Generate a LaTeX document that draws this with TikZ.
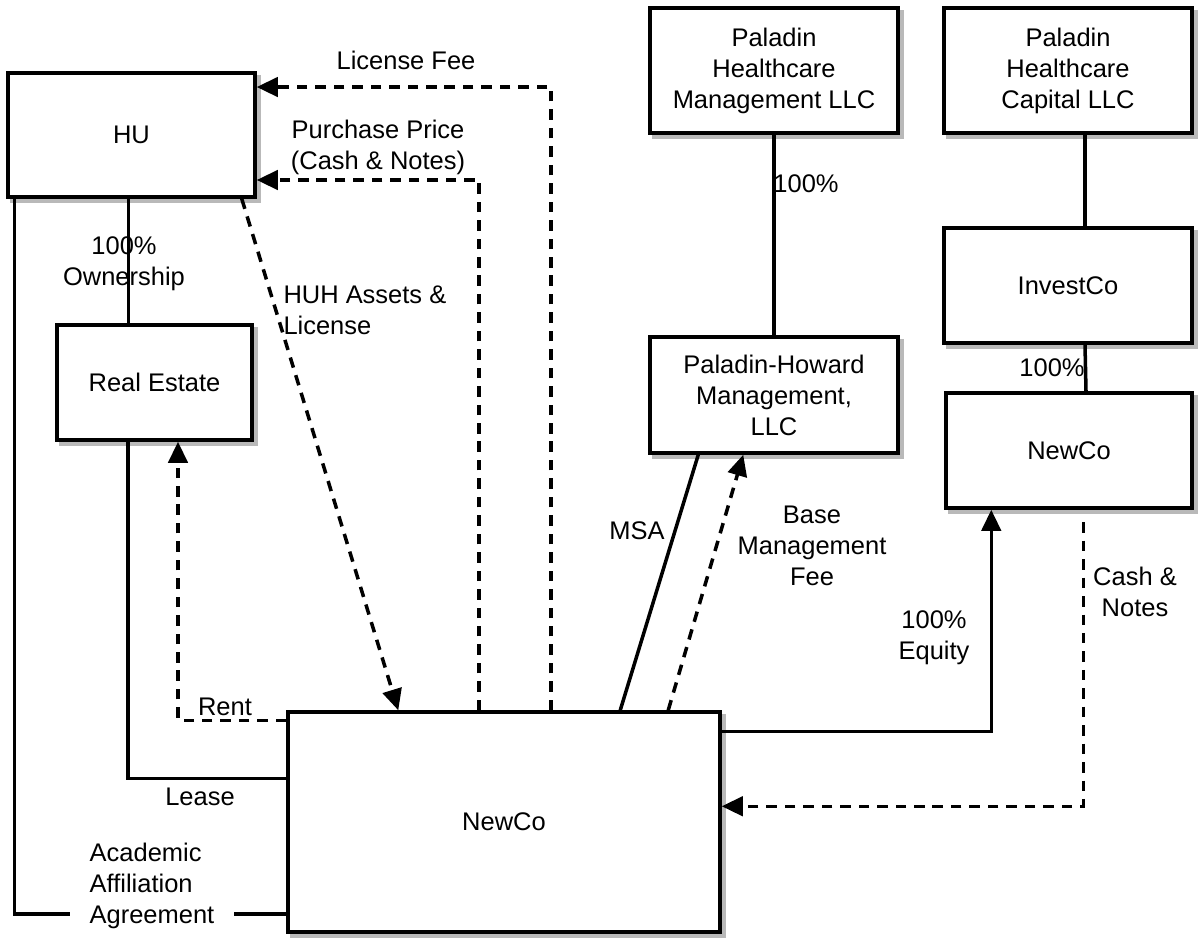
\documentclass[tikz,border=0pt]{standalone}
\usepackage{fontspec}
\setmainfont{Liberation Sans}
\usetikzlibrary{arrows.meta}

\begin{document}
\begin{tikzpicture}[x=0.02cm,y=-0.02cm,line width=2pt,
    >={Triangle[length=12pt,width=11pt]},
    font=\fontsize{14.5}{17.6}\selectfont,
    box/.style={draw,fill=white,align=center,inner sep=2pt,
      preaction={draw=gray!55,fill=gray!55,transform canvas={xshift=0.08cm,yshift=-0.08cm}}},
    lbl/.style={inner sep=1pt,align=center},
    flow/.style={->,dash pattern=on 6pt off 4.5pt}]

  \useasboundingbox (0,0) rectangle (1199,938);

  \node[box,minimum width=4.94cm,minimum height=2.48cm] (hu) at (131.5,135) {HU};
  \node[box,minimum width=3.9cm,minimum height=2.3cm] (realestate) at (154.5,382.5) {Real Estate};
  \node[box,minimum width=4.96cm,minimum height=2.5cm] (phm) at (774,70.5)
    {Paladin\\Healthcare\\Management LLC};
  \node[box,minimum width=4.96cm,minimum height=2.5cm] (phc) at (1068,70.5)
    {Paladin\\Healthcare\\Capital LLC};
  \node[box,minimum width=4.96cm,minimum height=2.3cm] (investco) at (1068,285.5) {InvestCo};
  \node[box,minimum width=4.96cm,minimum height=2.32cm] (phmgmt) at (774,395)
    {Paladin-Howard\\Management,\\LLC};
  \node[box,minimum width=4.92cm,minimum height=2.3cm] (newcoS) at (1069,450.5) {NewCo};
  \node[box,minimum width=8.64cm,minimum height=4.4cm] (newco) at (504,822) {NewCo};

  % HU side
  \draw ([xshift=-0.06cm]hu.south) -- ([xshift=-0.06cm]hu.south |- realestate.north);
  \node[lbl] (own) at (124,264) {100\%\\Ownership};
  \draw[flow] ([xshift=-0.3cm]hu.south east) -- ([xshift=2.24cm]newco.north west);
  \node[lbl,align=left,anchor=west] (huh) at (280,310) {HUH Assets \&\\License};
  \draw[flow] ([xshift=5.3cm]newco.north west) |- ([yshift=0.96cm]hu.east);
  \node[lbl] (fee) at (406,60) {License Fee};
  \draw[flow] ([xshift=3.86cm]newco.north west) |- ([yshift=-0.9cm]hu.east);
  \node[lbl] (price) at (378,147) {Purchase Price\\(Cash \& Notes)};
  \draw[flow] ([yshift=-0.2cm]newco.north west) -| ([xshift=0.47cm]realestate.south);
  \node[lbl] (rent) at (225,707) {Rent};
  \draw ([xshift=-0.53cm]realestate.south) |- ([yshift=-1.36cm]newco.north west);
  \node[lbl] (lease) at (200,797) {Lease};
  \draw ([xshift=0.16cm]hu.south west) |- ([yshift=0.4cm]newco.south west);
  \node[lbl,align=left,fill=white,inner xsep=0.4cm] (aaa) at (152,886)
    {Academic\\Affiliation\\Agreement};

  % Paladin side
  \draw (phm) -- (phmgmt);
  \node[lbl] (pct1) at (806,184) {100\%};
  \draw ([xshift=0.34cm]phc.south) -- ([xshift=0.34cm]investco.north);
  \draw ([xshift=0.34cm]investco.south) -- ([xshift=0.34cm]newcoS.north);
  \node[lbl] (pct2) at (1052,368) {100\%};
  \draw ([xshift=6.68cm]newco.north west) -- ([xshift=1.0cm]phmgmt.south west);
  \node[lbl] (msa) at (637,531) {MSA};
  \draw[flow] ([xshift=7.64cm]newco.north west) -- ([xshift=1.9cm]phmgmt.south west);
  \node[lbl] (base) at (812,546) {Base\\Management\\Fee};
  \draw[->] ([yshift=-0.42cm]newco.north east) -| ([xshift=0.94cm]newcoS.south west);
  \node[lbl] (equity) at (934,638) {100\%\\Equity};
  \draw[flow] ([xshift=2.78cm,yshift=-0.25cm]newcoS.south west) |- ([yshift=-1.92cm]newco.north east);
  \node[lbl] (cash) at (1135,592) {Cash \&\\Notes};

\end{tikzpicture}
\end{document}
